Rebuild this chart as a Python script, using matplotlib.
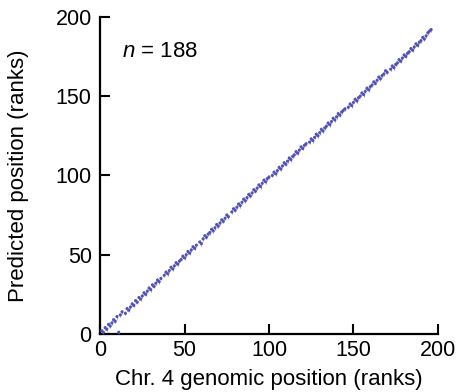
import matplotlib
matplotlib.use('Agg')
import matplotlib.pyplot as plt

# genomic rank (x) and predicted rank (y), n = 188
genomic_rank = [1, 2, 3, 4, 5, 6, 7, 8, 9, 10, 11, 12, 13,
                15, 16, 17, 18, 19, 20, 21, 22, 23, 24, 25, 26, 27, 28, 29, 30, 31, 32, 33, 34, 35, 36,
                38, 39, 40, 41, 42, 43, 44, 45, 46, 47, 48, 49, 50, 51, 52, 53, 54, 55, 56, 57,
                59, 60, 61, 62, 63, 64, 65, 66, 67, 68, 69, 70, 71, 72, 73, 74, 75, 76,
                78, 79, 80, 81, 82, 83, 84, 85, 86, 87, 88, 89, 90, 91, 92, 93, 94, 95, 96, 97, 98, 99, 100,
                102, 103, 104, 105, 106, 107, 108, 109, 110, 111, 112, 113, 114, 115, 116, 117, 118, 119, 120, 121, 122,
                124, 125, 126, 127, 128, 129, 130, 131, 132, 133, 134, 135, 136, 137, 138, 139, 140, 141, 142, 143, 144, 145,
                147, 148, 149, 150, 151, 152, 153, 154, 155, 156, 157, 158, 159, 160, 161, 162, 163, 164, 165, 166, 167, 168, 169, 170,
                172, 173, 174, 175, 176, 177, 178, 179, 180, 181, 182, 183, 184, 185, 186, 187, 188, 189, 190, 191, 192, 193, 194, 195, 196]
predicted_rank = [2, 1, 4, 3, 6, 5, 7, 9, 8, 11, 1, 12, 14,
                  13, 16, 15, 17, 19, 18, 21, 20, 23, 22, 24, 26, 25, 27, 29, 28, 31, 30, 32, 34, 33, 35,
                  37, 39, 38, 40, 42, 41, 43, 45, 44, 46, 47, 49, 48, 50, 52, 51, 53, 55, 54, 56,
                  58, 57, 60, 62, 61, 63, 64, 66, 65, 67, 69, 68, 70, 72, 71, 73, 75, 74,
                  77, 79, 78, 80, 82, 81, 83, 85, 84, 86, 88, 87, 89, 91, 90, 92, 94, 93, 95, 97, 96, 98, 99,
                  100, 102, 101, 103, 105, 104, 106, 108, 107, 109, 111, 110, 112, 113, 115, 114, 116, 118, 117, 119, 120,
                  121, 123, 122, 124, 126, 125, 127, 129, 128, 130, 131, 133, 132, 134, 136, 135, 137, 139, 138, 140, 141, 142,
                  143, 145, 144, 146, 148, 147, 149, 150, 152, 151, 153, 155, 154, 156, 157, 159, 158, 160, 162, 161, 163, 164, 166, 165,
                  167, 169, 168, 170, 171, 173, 172, 174, 176, 175, 177, 178, 180, 179, 181, 183, 182, 184, 185, 187, 186, 188, 190, 191, 192]
ticks = [0, 50, 100, 150, 200]

plt.rcParams['font.family'] = ['Liberation Sans', 'DejaVu Sans']
plt.rcParams['mathtext.fontset'] = 'custom'
plt.rcParams['mathtext.it'] = 'Liberation Sans:italic'
plt.rcParams['mathtext.rm'] = 'Liberation Sans'

fig = plt.figure(figsize=(4.59, 3.92), dpi=100)
ax = fig.add_axes([0.218, 0.148, 0.736, 0.809])

color = '#5252b4'
ax.scatter(genomic_rank, predicted_rank, s=5, marker='o', color=color,
           edgecolors='none', clip_on=False, zorder=3)
ax.scatter(genomic_rank, predicted_rank, s=10, marker='|', color=color,
           linewidths=0.8, alpha=0.6, clip_on=False, zorder=3)

ax.set_xlim(0, 200)
ax.set_ylim(0, 200)
ax.set_xticks(ticks)
ax.set_yticks(ticks)
for side in ('top', 'right'):
    ax.spines[side].set_visible(False)
for side in ('left', 'bottom'):
    ax.spines[side].set_linewidth(1.6)
ax.tick_params(direction='in', length=7, width=1.5, labelsize=15.5)
ax.tick_params(axis='y', pad=6)
ax.tick_params(axis='x', pad=4)

ax.set_xlabel('Chr. 4 genomic position (ranks)', fontsize=16, labelpad=6)
ax.set_ylabel('Predicted position (ranks)', fontsize=16, labelpad=19)
ax.text(13, 178, '$n$ = 188', fontsize=16, ha='left', va='center')

fig.savefig('out.png', dpi=100)
